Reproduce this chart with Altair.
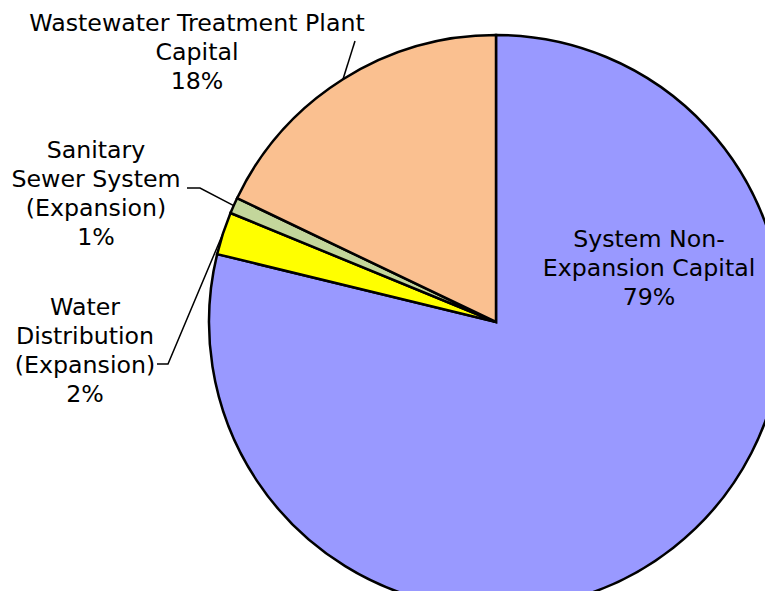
import altair as alt
import pandas as pd
import numpy as np

# ---- data ----
categories = [
    "System Non-Expansion Capital",
    "Water Distribution (Expansion)",
    "Sanitary Sewer System (Expansion)",
    "Wastewater Treatment Plant Capital",
]
values = [78.8, 2.4, 0.9, 17.9]
colors = ["#9999FF", "#FFFF00", "#C3D69B", "#FAC090"]
label_lines = [
    ["System Non-", "Expansion Capital"],
    ["Water", "Distribution", "(Expansion)"],
    ["Sanitary", "Sewer System", "(Expansion)"],
    ["Wastewater Treatment Plant", "Capital"],
]

# ---- layout (pixels, chart coordinates) ----
W, H = 757, 583
CX, CY, R = 488, 314, 287
FONT, FS, LH = "DejaVu Sans", 23.7, 29
label_pos = [(641, 239), (77, 307), (88, 150), (189, 23)]
leader_start = [[], [(149, 356), (160, 356)], [(179, 180), (192, 180)], [(347, 33)]]

# ---- build tables ----
pie_df = pd.DataFrame({"category": categories, "value": values, "order": range(len(values))})

texts = []
for cat, lines, v, (lx, ly) in zip(categories, label_lines, values, label_pos):
    texts.append({"category": cat, "text": "\n".join(lines + [f"{round(v)}%"]), "x": lx, "y": ly})
text_df = pd.DataFrame(texts)

cum = np.cumsum(values)
total = float(np.sum(values))
rows = []
for i, (cat, v) in enumerate(zip(categories, values)):
    if not leader_start[i]:
        continue
    mid = (cum[i] - v / 2) / total * 2 * np.pi
    ex, ey = CX + R * np.sin(mid), CY - R * np.cos(mid)
    pts = list(leader_start[i]) + [(ex, ey)]
    for k, (px, py) in enumerate(pts):
        rows.append({"category": cat, "k": k, "x": float(px), "y": float(py)})
lead_df = pd.DataFrame(rows)

pie = alt.Chart(pie_df).mark_arc(outerRadius=R, stroke="black", strokeWidth=2.5).encode(
    theta=alt.Theta("value:Q", stack=True),
    order=alt.Order("order:Q"),
    color=alt.Color("category:N", scale=alt.Scale(domain=categories, range=colors), legend=None),
    x=alt.value(CX),
    y=alt.value(CY),
)

leaders = alt.Chart(lead_df).mark_line(color="black", strokeWidth=1.5).encode(
    x=alt.X("x:Q", scale=None),
    y=alt.Y("y:Q", scale=None),
    detail="category:N",
    order="k:Q",
)

labels = alt.Chart(text_df).mark_text(
    font=FONT, fontSize=FS, lineHeight=LH, lineBreak="\n", align="center",
    baseline="alphabetic", color="black",
).encode(
    x=alt.X("x:Q", scale=None),
    y=alt.Y("y:Q", scale=None),
    text="text:N",
)

chart = alt.layer(pie, leaders, labels).properties(
    width=W, height=H, padding=0, autosize=alt.AutoSizeParams(type="none"), background="white"
).configure_view(stroke=None)

chart.save("out.html", embed_options={"renderer": "svg", "actions": False})
